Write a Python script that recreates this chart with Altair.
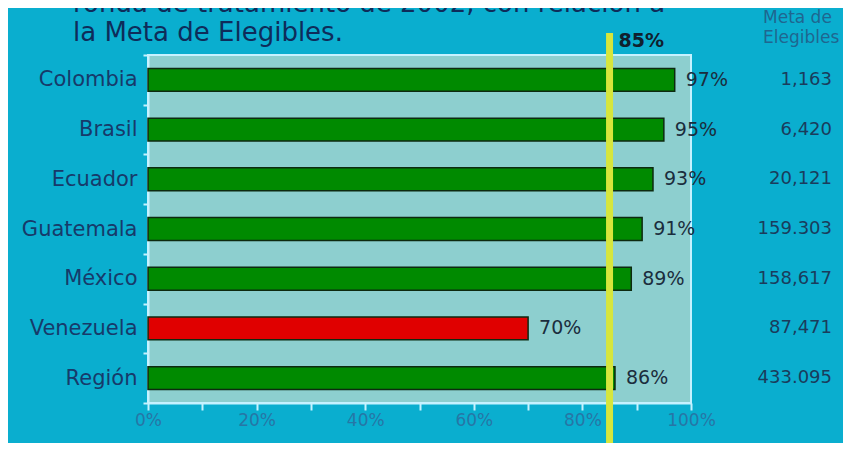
import altair as alt
import pandas as pd

# ---- data ----
countries = ["Colombia", "Brasil", "Ecuador", "Guatemala", "México", "Venezuela", "Región"]
coverage = [0.97, 0.95, 0.93, 0.91, 0.89, 0.70, 0.86]
cov_labels = ["97%", "95%", "93%", "91%", "89%", "70%", "86%"]
status = ["ok", "ok", "ok", "ok", "ok", "low", "ok"]
meta = ["1,163", "6,420", "20,121", "159.303", "158,617", "87,471", "433.095"]
target = [0.85]
target_label = ["85%"]
title_lines = ["ronda de tratamiento de 2002, con relación a", "la Meta de Elegibles."]
meta_header = ["Meta de", "Elegibles"]
x_ticks = [0.0, 0.1, 0.2, 0.3, 0.4, 0.5, 0.6, 0.7, 0.8, 0.9, 1.0]

FONT = "DejaVu Sans"
BG = "#0aaecf"
PLOT_BG = "#8dcfcf"
FRAME = "#c6f2ff"
W, H = 543, 348

df = pd.DataFrame({"country": countries, "coverage": coverage, "label": cov_labels,
                   "status": status, "meta": meta})
tdf = pd.DataFrame({"target": target, "tlabel": target_label})
title_df = pd.DataFrame({"t": ["\n".join(title_lines)]})
head_df = pd.DataFrame({"t": ["\n".join(meta_header)]})

xscale = alt.Scale(domain=[0, 1], nice=False, zero=True)
xaxis = alt.Axis(title=None, values=x_ticks, format=".0%",
                 labelExpr="round(datum.value*100) % 20 == 0 ? datum.label : ''",
                 labelFlush=False, tickSize=7, labelPadding=2, labelFontSize=17,
                 labelColor="#2676a6", labelFont=FONT)
yscale = alt.Scale(paddingInner=0, paddingOuter=0)
yaxis = alt.Axis(title=None, tickBand="extent", tickSize=5, labelPadding=6,
                 labelFontSize=21, labelColor="#173a6a", labelFont=FONT)

Y = alt.Y("country:N", sort=countries, scale=yscale, axis=yaxis)

base = alt.Chart(df)

bars = base.mark_bar(height=alt.RelativeBandSize(0.46), stroke="#0d2a10",
                     strokeWidth=1.5).encode(
    x=alt.X("coverage:Q", scale=xscale, axis=xaxis),
    y=Y,
    color=alt.Color("status:N", scale=alt.Scale(domain=["ok", "low"],
                                                range=["#008a00", "#e00000"]), legend=None),
)

vals = base.mark_text(align="left", baseline="middle", dx=11, fontSize=19, font=FONT,
                      color="#1b2d3d").encode(
    x=alt.X("coverage:Q", scale=xscale, axis=xaxis),
    y=Y,
    text="label:N",
)

metas = base.mark_text(align="right", baseline="middle", fontSize=18, font=FONT,
                       color="#1a3c5c").encode(
    x=alt.value(W + 141),
    y=Y,
    text="meta:N",
)

rule = alt.Chart(tdf).mark_rule(color="#d6e63c", strokeWidth=7).encode(
    x=alt.X("target:Q", scale=xscale, axis=xaxis),
    y=alt.value(-22),
    y2=alt.value(H + 60),
)

tlab = alt.Chart(tdf).mark_text(align="left", baseline="middle", dx=9, fontSize=19,
                                fontWeight="bold", font=FONT, color="#10202e").encode(
    x=alt.X("target:Q", scale=xscale, axis=xaxis),
    y=alt.value(-14),
    text="tlabel:N",
)

title = alt.Chart(title_df).mark_text(align="left", baseline="alphabetic", fontSize=26,
                                      lineBreak="\n", lineHeight=29, font=FONT,
                                      color="#0e2c5a").encode(
    x=alt.value(-75), y=alt.value(-43), text="t:N")

head = alt.Chart(head_df).mark_text(align="left", baseline="top", fontSize=17,
                                    lineBreak="\n", lineHeight=20, font=FONT,
                                    color="#1f6690").encode(
    x=alt.value(615), y=alt.value(-45), text="t:N")

chart = alt.layer(bars, rule, vals, tlab, metas, title, head).properties(
    width=W, height=H,
    autosize=alt.AutoSizeParams(type="none"),
    padding={"left": 140, "top": 47, "right": 152, "bottom": 40},
    background=BG,
).configure_view(
    fill=PLOT_BG, stroke=FRAME, strokeWidth=2
).configure_axis(
    domainColor=FRAME, domainWidth=2, tickColor=FRAME, tickWidth=2, grid=False
)

chart.save("out.html", embed_options={"renderer": "svg", "actions": False})
